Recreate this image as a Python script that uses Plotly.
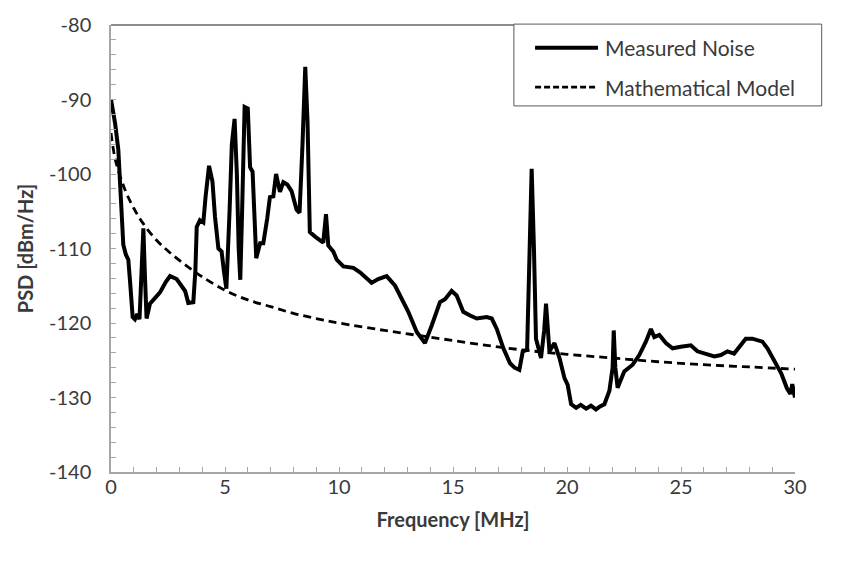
import plotly.graph_objects as go

# Measured noise power spectral density
freq_measured = [
    0.0, 0.18, 0.32, 0.4, 0.54, 0.65, 0.76, 0.85, 0.95, 1.05, 1.15, 1.25, 1.35, 1.42, 1.48,
    1.56, 1.71, 1.9, 2.15, 2.4, 2.59, 2.88, 3.1, 3.25, 3.39, 3.61, 3.7, 3.76, 3.9, 4.05,
    4.15, 4.3, 4.45, 4.56, 4.71, 4.85, 4.95, 5.06, 5.2, 5.3, 5.42, 5.52, 5.6, 5.67, 5.75,
    5.86, 6.0, 6.1, 6.21, 6.3, 6.37, 6.54, 6.68, 6.85, 6.97, 7.12, 7.24, 7.41, 7.56, 7.73,
    7.92, 8.14, 8.27, 8.4, 8.52, 8.62, 8.72, 8.95, 9.31, 9.43, 9.53, 9.75, 9.9, 10.19, 10.63,
    10.92, 11.43, 11.72, 12.09, 12.46, 12.75, 13.04, 13.41, 13.77, 14.07, 14.43, 14.65, 14.94,
    15.16, 15.45, 15.75, 16.04, 16.48, 16.7, 16.92, 17.21, 17.5, 17.7, 17.91, 18.06, 18.25,
    18.36, 18.45, 18.55, 18.64, 18.86, 19.0, 19.08, 19.15, 19.23, 19.45, 19.67, 19.89, 20.03,
    20.18, 20.4, 20.6, 20.84, 21.05, 21.27, 21.45, 21.64, 21.86, 22.0, 22.05, 22.12, 22.22, 22.51, 22.88,
    23.17, 23.46, 23.68, 23.83, 24.05, 24.34, 24.63, 24.99, 25.43, 25.72, 26.09, 26.46, 26.75,
    27.04, 27.33, 27.62, 27.84, 28.13, 28.57, 28.79, 29.08, 29.4, 29.65, 29.8, 29.88, 30.0,
]
psd_measured = [
    -90.0, -93.2, -96.7, -101.5, -109.5, -110.8, -111.5, -115.0, -119.2, -119.5, -118.8, -119.5, -112.0, -107.3, -113.0,
    -119.4, -117.4, -116.8, -115.9, -114.5, -113.7, -114.1, -115.2, -115.7, -117.3, -117.2, -113.0, -107.1, -106.2, -106.5,
    -103.0, -98.9, -101.0, -105.7, -110.0, -110.4, -113.0, -115.4, -105.0, -96.0, -92.6, -100.0, -110.0, -114.2, -105.0,
    -91.0, -91.2, -99.1, -99.7, -106.0, -111.3, -109.3, -109.3, -106.0, -103.1, -103.0, -100.0, -102.4, -101.1, -101.4,
    -102.3, -104.8, -105.2, -96.0, -85.6, -93.0, -107.8, -108.4, -109.2, -105.4, -109.6, -110.4, -111.5, -112.4, -112.6,
    -113.2, -114.6, -114.1, -113.7, -115.0, -116.8, -118.5, -121.2, -122.7, -120.3, -117.2, -116.8, -115.7,
    -116.3, -118.5, -119.0, -119.4, -119.2, -119.4, -120.8, -123.4, -125.4, -126.0, -126.3, -123.8, -123.6,
    -110.0, -99.3, -110.0, -122.1, -124.7, -121.0, -117.4, -121.0, -123.8, -122.7, -124.7, -127.4, -128.3,
    -130.9, -131.4, -131.0, -131.5, -131.1, -131.6, -131.2, -130.9, -129.1, -126.0, -121.0, -126.0, -128.7, -126.5, -125.6,
    -124.3, -122.5, -120.8, -121.9, -121.6, -122.7, -123.4, -123.2, -123.0, -123.8, -124.1, -124.5, -124.3,
    -123.8, -124.1, -123.0, -122.1, -122.1, -122.5, -123.4, -124.9, -126.8, -128.8, -129.5, -128.2, -130.0,
]

# Mathematical noise model
freq_model = [0.0, 0.2, 0.6, 1.0, 1.4, 2.0, 2.6, 3.3, 4.0, 5.0, 6.0, 7.0, 8.0, 9.0, 10.0,
              12.0, 14.0, 16.0, 18.0, 20.0, 22.0, 24.0, 26.0, 28.0, 30.0]
psd_model = [-94.5, -98.2, -102.0, -104.6, -106.6, -108.9, -110.6, -112.3, -113.8, -115.6,
             -116.9, -117.8, -118.7, -119.4, -120.0, -121.0, -121.9, -122.8, -123.6, -124.2,
             -124.7, -125.2, -125.6, -125.9, -126.2]

x_ticks = [0, 5, 10, 15, 20, 25, 30]
y_ticks = [-140, -130, -120, -110, -100, -90, -80]

series_names = ["Measured Noise", "Mathematical Model"]

FONT = "Lato, 'Open Sans', sans-serif"
TEXT = "#3a3a3a"
AXIS = "#a6a6a6"

fig = go.Figure()
fig.add_trace(go.Scatter(
    x=freq_measured, y=psd_measured, mode="lines", name=series_names[0],
    line=dict(color="black", width=4), showlegend=False,
))
fig.add_trace(go.Scatter(
    x=freq_model, y=psd_model, mode="lines", name=series_names[1],
    line=dict(color="black", width=2.8, dash="8px,5px", shape="spline"), showlegend=False,
))

fig.update_xaxes(
    range=[0, 30], tickvals=x_ticks, ticktext=[str(v) for v in x_ticks],
    showgrid=False, zeroline=False, showline=True, linecolor=AXIS, linewidth=1.5,
    ticks="inside", ticklen=5, tickcolor=AXIS, tickwidth=1,
    minor=dict(dtick=1, ticks="inside", ticklen=5, tickcolor=AXIS, tickwidth=1, showgrid=False),
    tickfont=dict(family=FONT, size=20, color=TEXT), ticklabelstandoff=-4,
    title=dict(text="<b>Frequency [MHz]</b>", font=dict(family=FONT, size=20, color=TEXT), standoff=16),
)
fig.update_yaxes(
    range=[-140, -80], tickvals=y_ticks, ticktext=[str(v) for v in y_ticks],
    showgrid=False, zeroline=False, showline=True, linecolor=AXIS, linewidth=1.5,
    ticks="inside", ticklen=5, tickcolor=AXIS, tickwidth=1,
    minor=dict(dtick=2, ticks="inside", ticklen=5, tickcolor=AXIS, tickwidth=1, showgrid=False),
    tickfont=dict(family=FONT, size=20, color=TEXT), ticklabelstandoff=14,
    title=dict(text="<b>PSD [dBm/Hz]</b>", font=dict(family=FONT, size=20, color=TEXT), standoff=10),
)

# Top border of the plot area
fig.add_shape(type="line", xref="paper", yref="paper", x0=0, x1=1, y0=1, y1=1,
              line=dict(color="#8c8c8c", width=2))

# Boxed legend
fig.add_shape(type="rect", xref="paper", yref="paper", x0=0.589, x1=1.039, y0=0.819, y1=1.002,
              line=dict(color="#595959", width=1), fillcolor="white")
legend_rows = [(0.949, "solid", 4), (0.861, "6px,3px", 2.8)]
for (yy, dash, w), label in zip(legend_rows, series_names):
    fig.add_shape(type="line", xref="paper", yref="paper", x0=0.620, x1=0.712, y0=yy, y1=yy,
                  line=dict(color="black", width=w, dash=dash))
    fig.add_annotation(xref="paper", yref="paper", x=0.719, y=yy, text=label, showarrow=False,
                       xanchor="left", yanchor="middle",
                       font=dict(family=FONT, size=21, color=TEXT))

fig.update_layout(
    width=841, height=570,
    margin=dict(l=111, r=46, t=19, b=98),
    plot_bgcolor="white", paper_bgcolor="white",
    showlegend=False,
)

fig.write_html("out.html")
